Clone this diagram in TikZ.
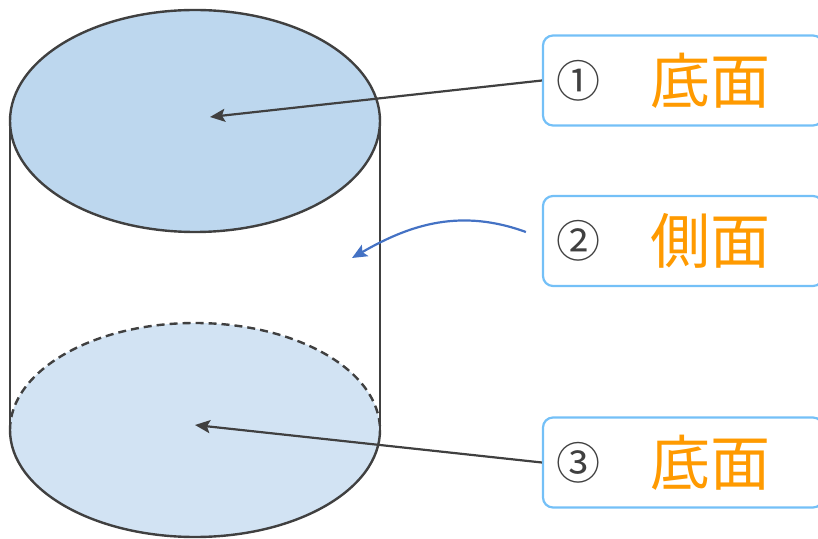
\documentclass[tikz,border=0pt]{standalone}
\usepackage{fontspec}
\newfontfamily\cjk{Noto Sans CJK JP}
\usetikzlibrary{arrows.meta,positioning}
\definecolor{edgegray}{HTML}{404040}
\definecolor{topfill}{HTML}{BDD7EE}
\definecolor{basefill}{HTML}{D2E3F3}
\definecolor{boxblue}{HTML}{74C0F7}
\definecolor{wordorange}{HTML}{FF9A00}
\definecolor{sideblue}{HTML}{4472C4}
\begin{document}
\begin{tikzpicture}[x=1pt,y=1pt,
  outline/.style={draw=edgegray,line width=2.4pt},
  labelbox/.style={draw=boxblue,line width=2.2pt,rounded corners=10pt,
    minimum width=280pt,minimum height=90pt,inner sep=0pt},
  numtext/.style={inner sep=0pt,text=edgegray,font=\cjk\fontsize{44}{44}\selectfont},
  wordtext/.style={inner sep=0pt,text=wordorange,font=\cjk\fontsize{60}{60}\selectfont},
  pointer/.style={draw=edgegray,line width=2.2pt,-{Stealth[length=15pt,width=13pt,inset=3pt]}},
  bluepointer/.style={draw=sideblue,line width=2.2pt,-{Stealth[length=15pt,width=13pt,inset=3pt]}}]
  \useasboundingbox (0,0) rectangle (818,538);
  % bottom base
  \fill[basefill] (195,108) ellipse [x radius=185pt,y radius=107pt];
  \draw[outline] (10,108) arc [start angle=180,end angle=360,x radius=185pt,y radius=107pt];
  \draw[outline,dashed,dash pattern=on 8pt off 5pt] (10,108) arc [start angle=180,end angle=0,x radius=185pt,y radius=107pt];
  % sides
  \draw[outline] (10,417) -- (10,108);
  \draw[outline] (380,417) -- (380,108);
  % top base
  \draw[outline,fill=topfill] (195,417) ellipse [x radius=185pt,y radius=111pt];
  \coordinate (toptip) at (210,421);
  \coordinate (sidetip) at (352,280);
  \coordinate (basetip) at (195,113);
  % label boxes
  \node[labelbox] (box1) at (683,457.5) {};
  \node[numtext,right=14pt of box1.west] (num1) {①};
  \node[wordtext,right=50pt of num1] (word1) {底面};
  \node[labelbox] (box2) at (683,297) {};
  \node[numtext,right=14pt of box2.west] (num2) {②};
  \node[wordtext,right=50pt of num2] (word2) {側面};
  \node[labelbox] (box3) at (683,75.5) {};
  \node[numtext,right=14pt of box3.west] (num3) {③};
  \node[wordtext,right=50pt of num3] (word3) {底面};
  % pointers
  \draw[pointer] (box1.west) -- (toptip);
  \draw[pointer] (box3.west) -- (basetip);
  \draw[bluepointer] ([xshift=-16pt,yshift=9pt]box2.west) to[out=160,in=30] (sidetip);
\end{tikzpicture}
\end{document}
